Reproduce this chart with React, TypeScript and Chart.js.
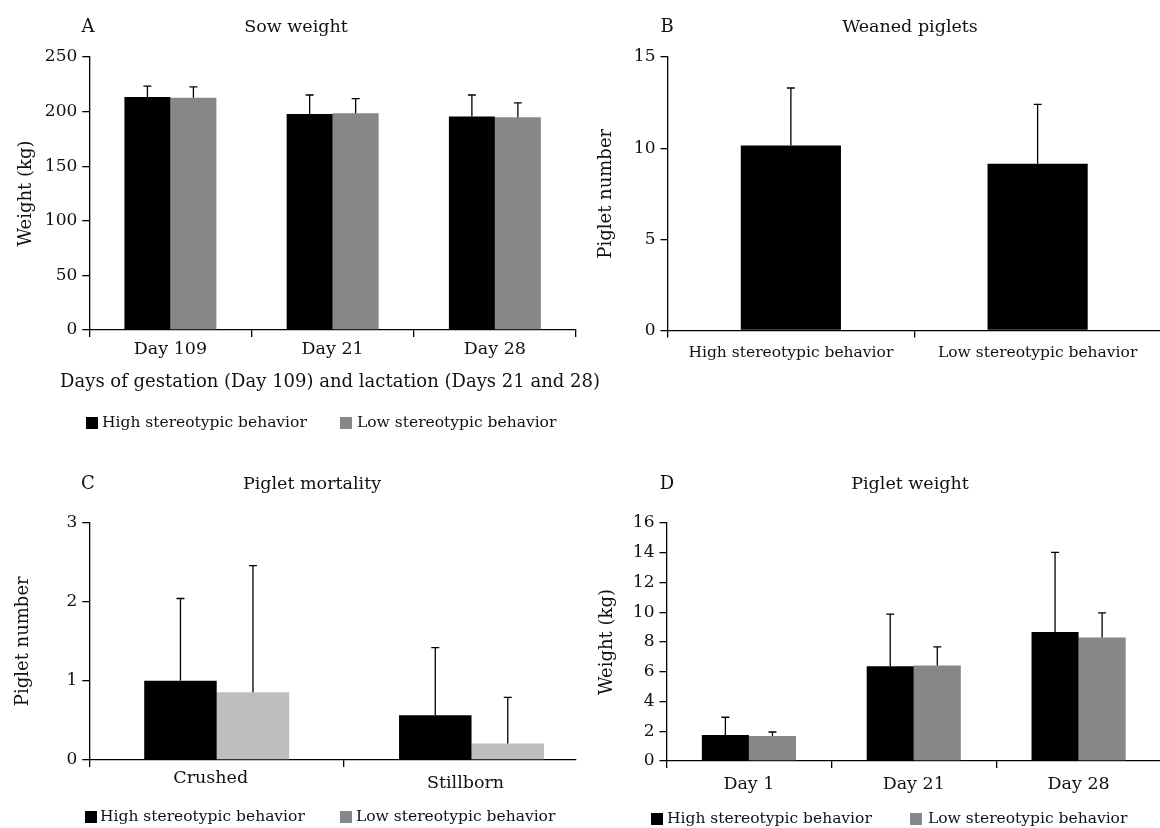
import React, { useEffect, useRef } from 'react';
import { Chart, registerables } from 'chart.js';

Chart.register(...registerables);

// ---------- data ----------
const seriesLabels = ['High stereotypic behavior', 'Low stereotypic behavior'];

const sowCategories = ['Day 109', 'Day 21', 'Day 28'];
const sowHigh = [213.3, 197.9, 195.5];
const sowHighSD = [10.0, 17.3, 19.7];
const sowLow = [212.7, 198.5, 194.8];
const sowLowSD = [10.0, 13.3, 13.1];
const sowAxis = [0, 250, 50]; // min, max, step

const weanedCategories = ['High stereotypic behavior', 'Low stereotypic behavior'];
const weanedMeans = [10.15, 9.15];
const weanedSD = [3.15, 3.25];
const weanedAxis = [0, 15, 5];

const mortalityCategories = ['Crushed', 'Stillborn'];
const mortalityHigh = [1.0, 0.565];
const mortalityHighSD = [1.04, 0.855];
const mortalityLow = [0.855, 0.21];
const mortalityLowSD = [1.6, 0.58];
const mortalityAxis = [0, 3, 1];

const pigletCategories = ['Day 1', 'Day 21', 'Day 28'];
const pigletHigh = [1.75, 6.37, 8.68];
const pigletHighSD = [1.19, 3.5, 5.35];
const pigletLow = [1.68, 6.42, 8.3];
const pigletLowSD = [0.27, 1.25, 1.66];
const pigletAxis = [0, 16, 2];

// ---------- styles ----------
const FONT = '"DejaVu Serif", serif';
const TEXT = '#111';
const BLACK = '#000000';
const GRAY = '#878787';
const LIGHT = '#bebebe';
const CW = 1180;
const CH = 828;
const YW = 89;

const errorBarPlugin = {
  id: 'errorBars',
  afterDatasetsDraw(chart: any) {
    const ctx = chart.ctx;
    const y = chart.scales.y;
    ctx.save();
    ctx.strokeStyle = '#000';
    ctx.lineWidth = 1.3;
    chart.data.datasets.forEach((ds: any, di: number) => {
      const meta = chart.getDatasetMeta(di);
      meta.data.forEach((bar: any, i: number) => {
        const v = ds.data[i];
        const e = ds.errors[i];
        const y0 = y.getPixelForValue(v);
        const y1 = y.getPixelForValue(v + e);
        ctx.beginPath();
        ctx.moveTo(bar.x, y0);
        ctx.lineTo(bar.x, y1);
        ctx.moveTo(bar.x - 4, y1);
        ctx.lineTo(bar.x + 4, y1);
        ctx.stroke();
      });
    });
    ctx.restore();
  },
};

function makeDecor(d: any) {
  return {
    id: 'decor',
    afterDraw(chart: any) {
      const ctx = chart.ctx;
      ctx.save();
      ctx.fillStyle = TEXT;
      ctx.textBaseline = 'middle';
      ctx.textAlign = 'center';
      ctx.font = `18px ${FONT}`;
      ctx.fillText(d.letter, d.letterX, d.titleY);
      ctx.font = `17.5px ${FONT}`;
      ctx.fillText(d.title, d.titleX, d.titleY);
      if (d.xTitle) {
        ctx.font = `18px ${FONT}`;
        ctx.fillText(d.xTitle.text, d.xTitle.x, d.xTitle.y);
      }
      if (d.legend) {
        ctx.font = `15.5px ${FONT}`;
        ctx.textAlign = 'left';
        d.legend.items.forEach((it: any, i: number) => {
          ctx.fillStyle = d.legend.colors[i];
          ctx.fillRect(it[0], d.legend.y - 6, 12, 12);
          ctx.fillStyle = TEXT;
          ctx.fillText(seriesLabels[i], it[1], d.legend.y);
        });
      }
      ctx.restore();
    },
  };
}

function buildConfig(p: any) {
  return {
    type: 'bar',
    data: {
      labels: p.labels,
      datasets: p.datasets.map((ds: any) => ({
        label: ds.label,
        data: ds.data,
        errors: ds.errors,
        backgroundColor: ds.color,
        borderWidth: 0,
        barPercentage: 1,
        categoryPercentage: p.catPct,
      })),
    },
    plugins: [errorBarPlugin, makeDecor(p.decor)],
    options: {
      responsive: false,
      animation: false,
      events: [],
      layout: {
        padding: {
          left: p.area[0] - YW,
          top: p.area[1],
          right: CW - p.area[2],
          bottom: CH - p.area[3] - p.xH,
        },
      },
      plugins: {
        legend: { display: false },
        title: { display: false },
        tooltip: { enabled: false },
      },
      scales: {
        x: {
          type: 'category',
          offset: true,
          grid: {
            display: true,
            offset: true,
            drawOnChartArea: false,
            drawTicks: true,
            tickLength: 7,
            color: '#000',
            lineWidth: 1.3,
          },
          border: { display: true, color: '#000', width: 1.3 },
          ticks: {
            color: TEXT,
            font: p.xFont,
            padding: p.xPad,
            maxRotation: 0,
            autoSkip: false,
            labelOffset: p.labelOffset || 0,
          },
          title: { display: false },
          afterFit: (s: any) => {
            s.height = p.xH;
          },
          afterBuildTicks: p.valueRange
            ? (s: any) => {
                s._valueRange = p.valueRange;
              }
            : undefined,
        },
        y: {
          min: p.yAxis[0],
          max: p.yAxis[1],
          ticks: {
            stepSize: p.yAxis[2],
            color: TEXT,
            font: { family: FONT, size: 17 },
            padding: 5,
          },
          grid: {
            display: true,
            drawOnChartArea: false,
            drawTicks: true,
            tickLength: 7,
            color: '#000',
            lineWidth: 1.3,
          },
          border: { display: true, color: '#000', width: 1.3 },
          title: {
            display: true,
            text: p.yTitle,
            color: TEXT,
            font: { family: FONT, size: 18 },
            padding: { top: p.yTitleOffset - 10.8, bottom: 0 },
          },
          afterFit: (s: any) => {
            s.width = YW;
          },
        },
      },
    },
  };
}

const panels = [
  {
    labels: sowCategories,
    datasets: [
      { label: seriesLabels[0], data: sowHigh, errors: sowHighSD, color: BLACK },
      { label: seriesLabels[1], data: sowLow, errors: sowLowSD, color: GRAY },
    ],
    catPct: 0.567,
    area: [89.3, 57, 576, 330],
    xH: 65,
    xPad: 2,
    xFont: { family: FONT, size: 17.5 },
    yAxis: sowAxis,
    yTitle: 'Weight (kg)',
    yTitleOffset: 26,
    decor: {
      letter: 'A',
      letterX: 88,
      title: 'Sow weight',
      titleX: 296,
      titleY: 27,
      xTitle: { text: 'Days of gestation (Day 109) and lactation (Days 21 and 28)', x: 330, y: 382 },
      legend: { y: 423, items: [[86, 102], [340, 357]], colors: [BLACK, GRAY] },
    },
  },
  {
    labels: weanedCategories,
    datasets: [{ label: 'Weaned piglets', data: weanedMeans, errors: weanedSD, color: BLACK }],
    catPct: 0.406,
    area: [667.5, 57, 1161, 330.5],
    xH: 40,
    xPad: 6.5,
    xFont: { family: FONT, size: 15.5 },
    yAxis: weanedAxis,
    yTitle: 'Piglet number',
    yTitleOffset: 27.5,
    decor: { letter: 'B', letterX: 667, title: 'Weaned piglets', titleX: 910, titleY: 27 },
  },
  {
    labels: mortalityCategories,
    datasets: [
      { label: seriesLabels[0], data: mortalityHigh, errors: mortalityHighSD, color: BLACK },
      { label: seriesLabels[1], data: mortalityLow, errors: mortalityLowSD, color: LIGHT },
    ],
    catPct: 0.569,
    valueRange: 1.91,
    labelOffset: -6,
    area: [89.3, 522.5, 576, 760],
    xH: 50,
    xPad: 1.3,
    xFont: (c: any) => ({ family: FONT, size: 17.5, lineHeight: c.index === 1 ? 1.77 : 1.2 }),
    yAxis: mortalityAxis,
    yTitle: 'Piglet number',
    yTitleOffset: 23,
    decor: {
      letter: 'C',
      letterX: 88,
      title: 'Piglet mortality',
      titleX: 312,
      titleY: 484,
      legend: { y: 817, items: [[85, 100], [340, 356]], colors: [BLACK, GRAY] },
    },
  },
  {
    labels: pigletCategories,
    datasets: [
      { label: seriesLabels[0], data: pigletHigh, errors: pigletHighSD, color: BLACK },
      { label: seriesLabels[1], data: pigletLow, errors: pigletLowSD, color: GRAY },
    ],
    catPct: 0.571,
    area: [666.5, 523, 1161, 761],
    xH: 40,
    xPad: 5.8,
    xFont: { family: FONT, size: 17.5 },
    yAxis: pigletAxis,
    yTitle: 'Weight (kg)',
    yTitleOffset: 30,
    decor: {
      letter: 'D',
      letterX: 667,
      title: 'Piglet weight',
      titleX: 910,
      titleY: 484,
      legend: { y: 819, items: [[651, 667], [910, 928]], colors: [BLACK, GRAY] },
    },
  },
];

function Panel({ p }: { p: any }) {
  const ref = useRef<HTMLCanvasElement>(null);
  useEffect(() => {
    const chart = new Chart(ref.current as HTMLCanvasElement, buildConfig(p) as any);
    return () => chart.destroy();
  }, [p]);
  return (
    <canvas
      ref={ref}
      width={CW}
      height={CH}
      style={{ position: 'absolute', left: 0, top: 0, width: CW, height: CH }}
    />
  );
}

export default function App() {
  return (
    <div
      style={{
        position: 'absolute',
        left: 0,
        top: 0,
        width: 1160,
        height: 828,
        overflow: 'hidden',
        background: '#fff',
      }}
    >
      {panels.map((p, i) => (
        <Panel key={i} p={p} />
      ))}
    </div>
  );
}
